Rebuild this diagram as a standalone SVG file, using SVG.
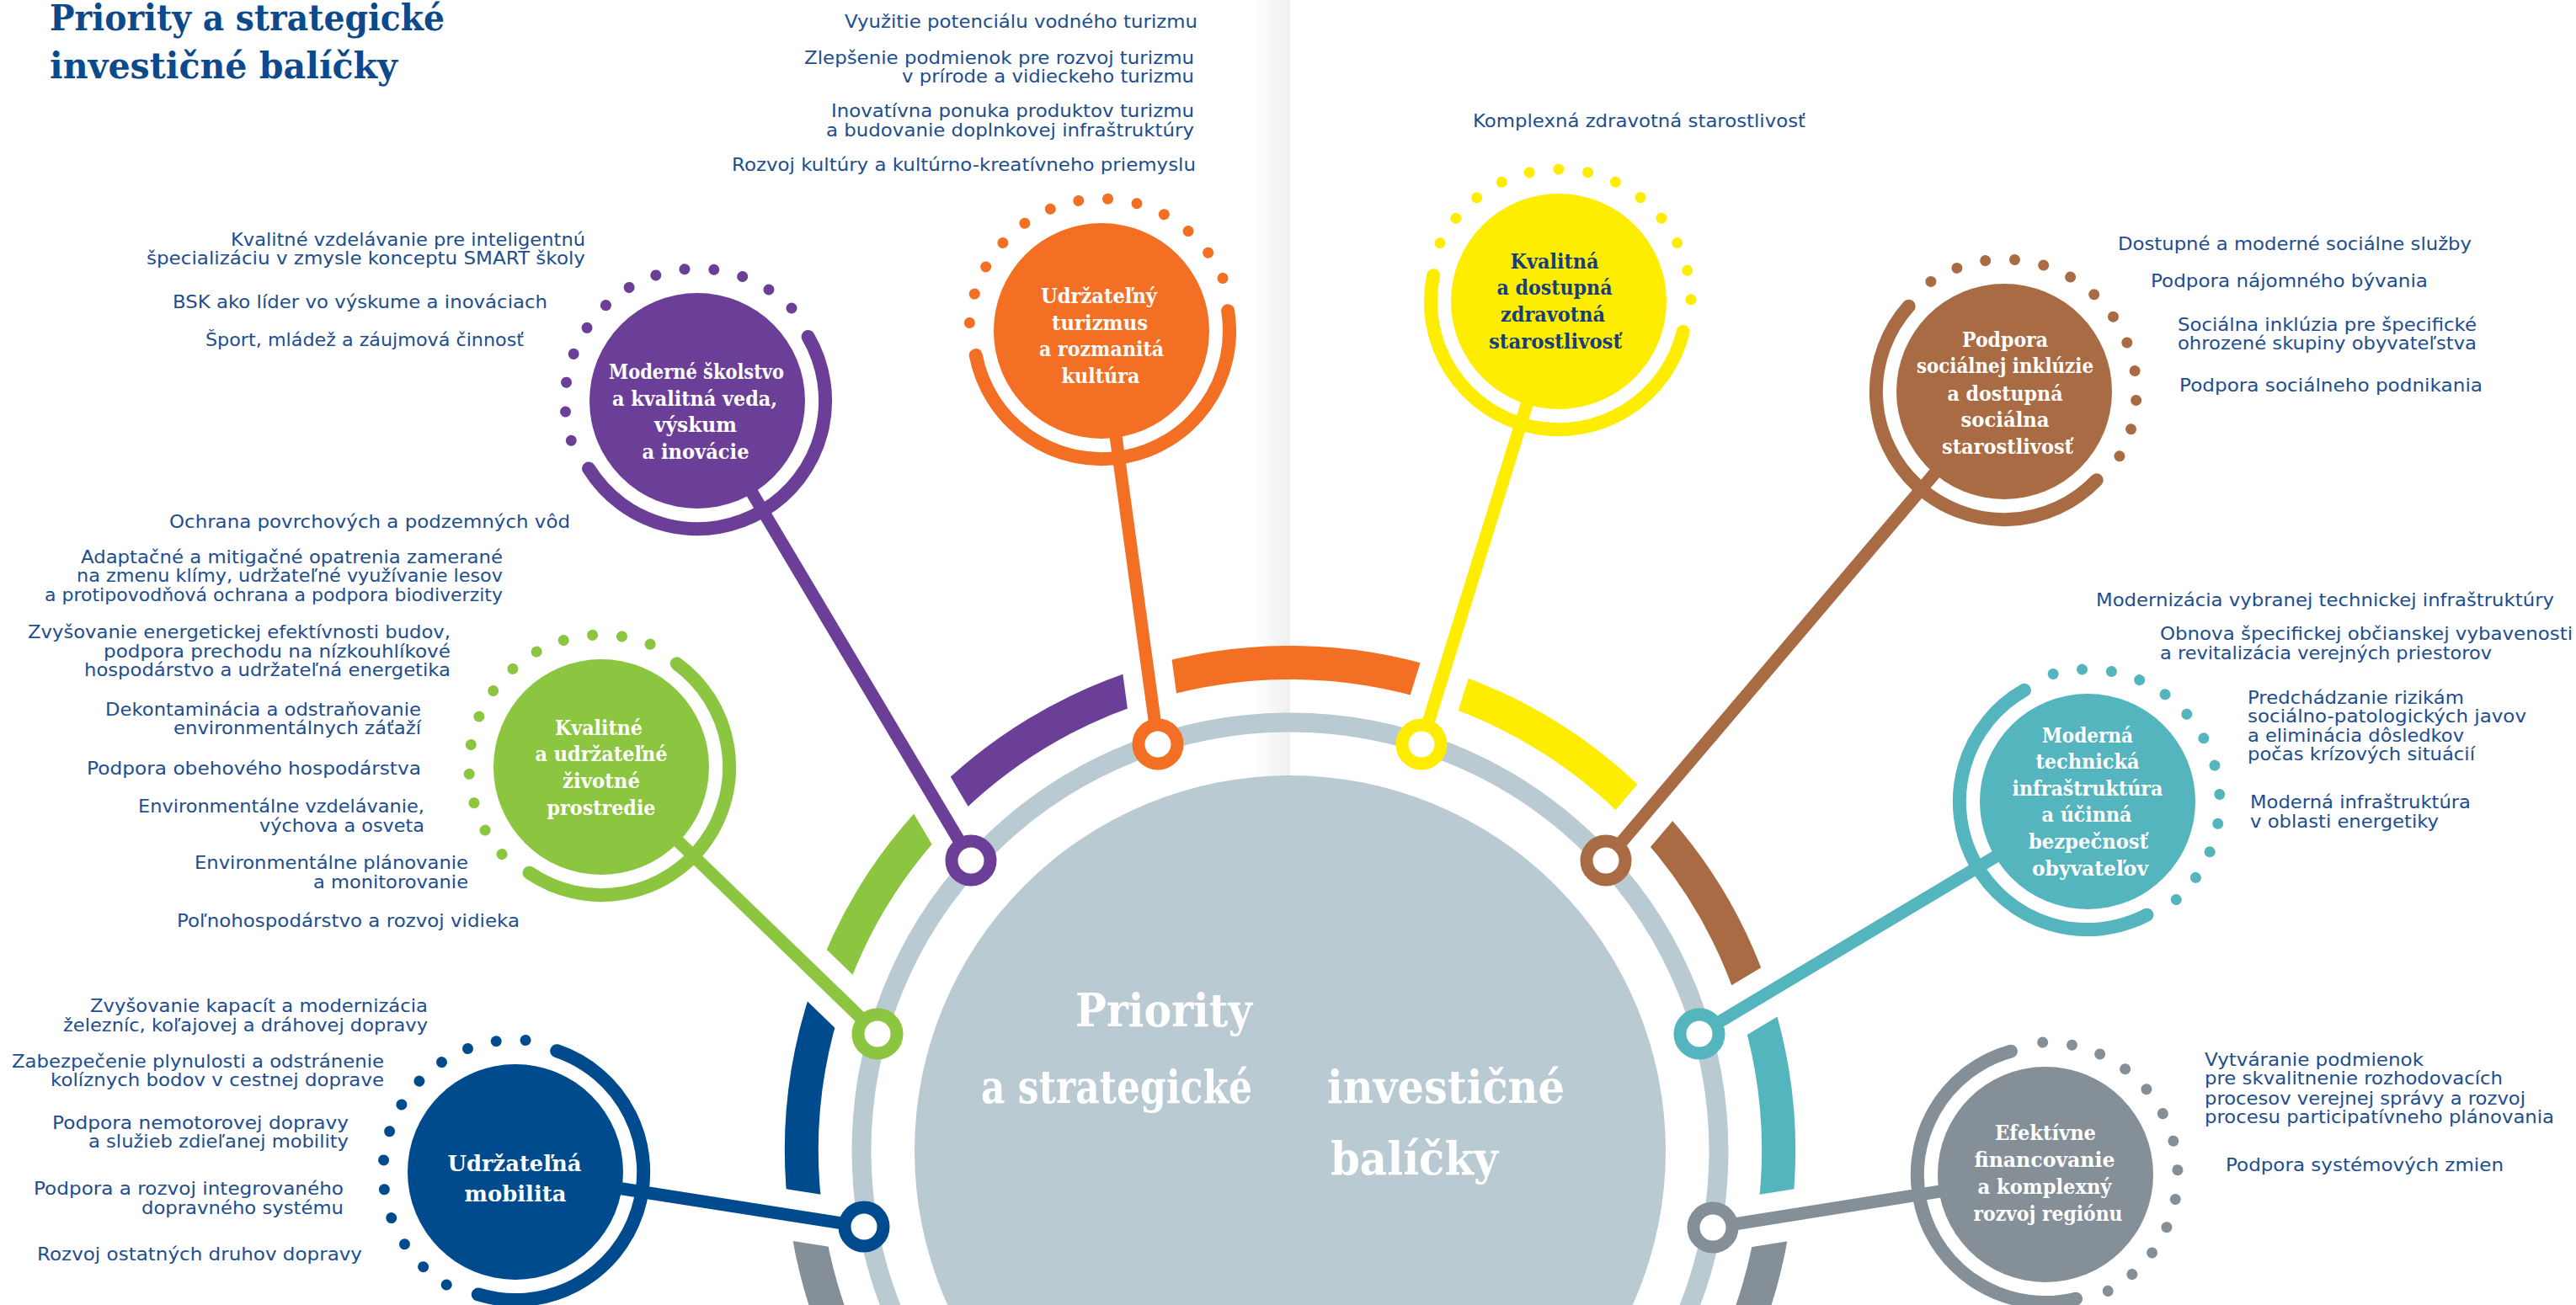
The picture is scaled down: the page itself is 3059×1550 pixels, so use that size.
<svg xmlns="http://www.w3.org/2000/svg" xmlns:xlink="http://www.w3.org/1999/xlink" width="3059" height="1550" viewBox="0 0 3059 1550">
<style>
.bt{font-family:"DejaVu Sans","Noto Sans","Liberation Sans",sans-serif;font-size:20.5px;fill:#1D4E8F}
.e{text-anchor:end}
.nt{font-family:"DejaVu Serif Condensed","DejaVu Serif",serif;font-weight:bold;font-size:24px;fill:#fff;text-anchor:middle}
.ttl{font-family:"DejaVu Serif Condensed","DejaVu Serif",serif;font-weight:bold;font-size:43px;fill:#0D4A8C}
.ct{font-family:"DejaVu Serif Condensed","DejaVu Serif",serif;font-weight:bold;font-size:54px;fill:#fff}
.seg{fill:none;stroke-width:40}
.con{stroke-width:15;fill:none}
.mk{fill:#fff;stroke-width:15}
</style>
<defs>
<linearGradient id="fold" x1="0" y1="0" x2="1" y2="0">
<stop offset="0" stop-color="#000" stop-opacity="0"/>
<stop offset="1" stop-color="#000" stop-opacity="0.06"/>
</linearGradient>
<g id="orn">
<path d="M2.65 -151.98 A152 152 0 0 1 2.65 151.98" fill="none" stroke="currentColor" stroke-width="16" stroke-linecap="round"/>
<g fill="currentColor">
<circle cx="-157" cy="0" r="6.5"/>
<circle cx="-153.13" cy="34.65" r="6.5"/><circle cx="-153.13" cy="-34.65" r="6.5"/>
<circle cx="-141.71" cy="67.59" r="6.5"/><circle cx="-141.71" cy="-67.59" r="6.5"/>
<circle cx="-123.3" cy="97.2" r="6.5"/><circle cx="-123.3" cy="-97.2" r="6.5"/>
<circle cx="-98.8" cy="122.01" r="6.5"/><circle cx="-98.8" cy="-122.01" r="6.5"/>
<circle cx="-69.44" cy="140.81" r="6.5"/><circle cx="-69.44" cy="-140.81" r="6.5"/>
<circle cx="-36.65" cy="152.66" r="6.5"/><circle cx="-36.65" cy="-152.66" r="6.5"/>
</g>
</g>
<mask id="gaps" maskUnits="userSpaceOnUse" x="0" y="0" width="3059" height="1550">
<rect width="3059" height="1550" fill="#fff"/>
<g stroke="#000" stroke-width="60">
<line x1="828" y1="476" x2="1153" y2="1022"/>
<line x1="1308" y1="393" x2="1375" y2="884"/>
<line x1="1851" y1="358" x2="1688" y2="884"/>
<line x1="2380" y1="465" x2="1907" y2="1022"/>
<line x1="714" y1="911" x2="1042" y2="1228"/>
<line x1="2479" y1="952" x2="2018" y2="1228"/>
<line x1="612" y1="1392" x2="1026" y2="1457"/>
<line x1="2429" y1="1395" x2="2034" y2="1458"/>
</g>
</mask>
</defs>
<rect width="3059" height="1550" fill="#fff"/>
<rect x="1486" y="0" width="46" height="1550" fill="url(#fold)"/>

<g id="title">
<text class="ttl" x="59" y="36" textLength="469" lengthAdjust="spacingAndGlyphs">Priority a strategické</text>
<text class="ttl" x="59" y="93" textLength="413" lengthAdjust="spacingAndGlyphs">investičné balíčky</text>
</g>

<g id="hub">
<circle cx="1532" cy="1367" r="446" fill="#BACAD3"/>
<circle cx="1532" cy="1367" r="509" fill="none" stroke="#BACAD3" stroke-width="23"/>
<text class="ct" x="1487" y="1219" text-anchor="end" textLength="210" lengthAdjust="spacingAndGlyphs">Priority</text>
<text class="ct" x="1487" y="1310" text-anchor="end" textLength="322" lengthAdjust="spacingAndGlyphs">a strategické</text>
<text class="ct" x="1576" y="1310" textLength="282" lengthAdjust="spacingAndGlyphs">investičné</text>
<text class="ct" x="1580" y="1395" textLength="199" lengthAdjust="spacingAndGlyphs">balíčky</text>
</g>

<g id="segments" mask="url(#gaps)">
<path class="seg" stroke="#848F97" d="M1159.2 1811.3 A580 580 0 0 1 957.9 1449.7"/>
<path class="seg" stroke="#004B8D" d="M957.9 1449.7 A580 580 0 0 1 983.9 1177.2"/>
<path class="seg" stroke="#8CC540" d="M983.9 1177.2 A580 580 0 0 1 1115.5 963.4"/>
<path class="seg" stroke="#6B3F98" d="M1115.5 963.4 A580 580 0 0 1 1365.3 811.5"/>
<path class="seg" stroke="#F26F23" d="M1365.3 811.5 A580 580 0 0 1 1711.2 815.4"/>
<path class="seg" stroke="#FFED00" d="M1711.2 815.4 A580 580 0 0 1 1950.6 965.6"/>
<path class="seg" stroke="#A96B43" d="M1950.6 965.6 A580 580 0 0 1 2085.2 1192.6"/>
<path class="seg" stroke="#55B5BE" d="M2085.2 1192.6 A580 580 0 0 1 2106.1 1449.7"/>
<path class="seg" stroke="#848F97" d="M2106.1 1449.7 A580 580 0 0 1 1904.8 1811.3"/>
</g>

<g id="connectors">
<line class="con" stroke="#6B3F98" x1="828" y1="476" x2="1153" y2="1022"/>
<line class="con" stroke="#F26F23" x1="1308" y1="393" x2="1375" y2="884"/>
<line class="con" stroke="#FFED00" x1="1851" y1="358" x2="1688" y2="884"/>
<line class="con" stroke="#A96B43" x1="2380" y1="465" x2="1907" y2="1022"/>
<line class="con" stroke="#8CC540" x1="714" y1="911" x2="1042" y2="1228"/>
<line class="con" stroke="#55B5BE" x1="2479" y1="952" x2="2018" y2="1228"/>
<line class="con" stroke="#004B8D" x1="612" y1="1392" x2="1026" y2="1457"/>
<line class="con" stroke="#848F97" x1="2429" y1="1395" x2="2034" y2="1458"/>
<circle class="mk" stroke="#6B3F98" cx="1153" cy="1022" r="23"/>
<circle class="mk" stroke="#F26F23" cx="1375" cy="884" r="23"/>
<circle class="mk" stroke="#FFED00" cx="1688" cy="884" r="23"/>
<circle class="mk" stroke="#A96B43" cx="1907" cy="1022" r="23"/>
<circle class="mk" stroke="#8CC540" cx="1042" cy="1228" r="23"/>
<circle class="mk" stroke="#55B5BE" cx="2018" cy="1228" r="23"/>
<circle class="mk" stroke="#004B8D" cx="1026" cy="1457" r="23"/>
<circle class="mk" stroke="#848F97" cx="2034" cy="1458" r="23"/>
</g>

<g id="node-skolstvo">
<use xlink:href="#orn" href="#orn" transform="translate(828 476) rotate(59)" style="color:#6B3F98"/>
<circle cx="828" cy="476" r="128" fill="#6B3F98"/>
<text class="nt" x="827" y="450" textLength="208" lengthAdjust="spacingAndGlyphs">Moderné školstvo</text>
<text class="nt" x="825" y="482" textLength="196" lengthAdjust="spacingAndGlyphs">a kvalitná veda,</text>
<text class="nt" x="826" y="513" textLength="98" lengthAdjust="spacingAndGlyphs">výskum</text>
<text class="nt" x="826" y="545" textLength="127" lengthAdjust="spacingAndGlyphs">a inovácie</text>
<text class="bt e" x="695" y="292" textLength="421" lengthAdjust="spacingAndGlyphs">Kvalitné vzdelávanie pre inteligentnú</text>
<text class="bt e" x="695" y="314" textLength="521" lengthAdjust="spacingAndGlyphs">špecializáciu v zmysle konceptu SMART školy</text>
<text class="bt e" x="650" y="366" textLength="445" lengthAdjust="spacingAndGlyphs">BSK ako líder vo výskume a inováciach</text>
<text class="bt e" x="622" y="411" textLength="378" lengthAdjust="spacingAndGlyphs">Šport, mládež a záujmová činnosť</text>
</g>

<g id="node-turizmus">
<use xlink:href="#orn" href="#orn" transform="translate(1308 393) rotate(80)" style="color:#F26F23"/>
<circle cx="1308" cy="393" r="128" fill="#F26F23"/>
<text class="nt" x="1305" y="360" textLength="138" lengthAdjust="spacingAndGlyphs">Udržateľný</text>
<text class="nt" x="1306" y="392" textLength="114" lengthAdjust="spacingAndGlyphs">turizmus</text>
<text class="nt" x="1308" y="423" textLength="148" lengthAdjust="spacingAndGlyphs">a rozmanitá</text>
<text class="nt" x="1307" y="455" textLength="93" lengthAdjust="spacingAndGlyphs">kultúra</text>
<text class="bt e" x="1422" y="33" textLength="419" lengthAdjust="spacingAndGlyphs">Využitie potenciálu vodného turizmu</text>
<text class="bt e" x="1418" y="76" textLength="463" lengthAdjust="spacingAndGlyphs">Zlepšenie podmienok pre rozvoj turizmu</text>
<text class="bt e" x="1418" y="98" textLength="347" lengthAdjust="spacingAndGlyphs">v prírode a vidieckeho turizmu</text>
<text class="bt e" x="1418" y="139" textLength="431" lengthAdjust="spacingAndGlyphs">Inovatívna ponuka produktov turizmu</text>
<text class="bt e" x="1418" y="162" textLength="437" lengthAdjust="spacingAndGlyphs">a budovanie doplnkovej infraštruktúry</text>
<text class="bt e" x="1420" y="203" textLength="551" lengthAdjust="spacingAndGlyphs">Rozvoj kultúry a kultúrno-kreatívneho priemyslu</text>
</g>

<g id="node-zdravotna">
<use xlink:href="#orn" href="#orn" transform="translate(1851 358) rotate(102.7)" style="color:#FFED00"/>
<circle cx="1851" cy="358" r="128" fill="#FFED00"/>
<text class="nt" x="1846" y="319" style="fill:#163F7A" textLength="105" lengthAdjust="spacingAndGlyphs">Kvalitná</text>
<text class="nt" x="1846" y="350" style="fill:#163F7A" textLength="137" lengthAdjust="spacingAndGlyphs">a dostupná</text>
<text class="nt" x="1844" y="382" style="fill:#163F7A" textLength="124" lengthAdjust="spacingAndGlyphs">zdravotná</text>
<text class="nt" x="1847" y="414" style="fill:#163F7A" textLength="158" lengthAdjust="spacingAndGlyphs">starostlivosť</text>
<text class="bt" x="1749" y="151" textLength="395" lengthAdjust="spacingAndGlyphs">Komplexná zdravotná starostlivosť</text>
</g>

<g id="node-socialna">
<use xlink:href="#orn" href="#orn" transform="translate(2380 465) rotate(132.8)" style="color:#A96B43"/>
<circle cx="2380" cy="465" r="128" fill="#A96B43"/>
<text class="nt" x="2381" y="412" textLength="102" lengthAdjust="spacingAndGlyphs">Podpora</text>
<text class="nt" x="2381" y="443" textLength="210" lengthAdjust="spacingAndGlyphs">sociálnej inklúzie</text>
<text class="nt" x="2381" y="476" textLength="137" lengthAdjust="spacingAndGlyphs">a dostupná</text>
<text class="nt" x="2381" y="507" textLength="105" lengthAdjust="spacingAndGlyphs">sociálna</text>
<text class="nt" x="2384" y="539" textLength="156" lengthAdjust="spacingAndGlyphs">starostlivosť</text>
<text class="bt" x="2515" y="297" textLength="420" lengthAdjust="spacingAndGlyphs">Dostupné a moderné sociálne služby</text>
<text class="bt" x="2554" y="341" textLength="329" lengthAdjust="spacingAndGlyphs">Podpora nájomného bývania</text>
<text class="bt" x="2586" y="393" textLength="355" lengthAdjust="spacingAndGlyphs">Sociálna inklúzia pre špecifické</text>
<text class="bt" x="2586" y="415" textLength="355" lengthAdjust="spacingAndGlyphs">ohrozené skupiny obyvateľstva</text>
<text class="bt" x="2588" y="465" textLength="360" lengthAdjust="spacingAndGlyphs">Podpora sociálneho podnikania</text>
</g>

<g id="node-prostredie">
<use xlink:href="#orn" href="#orn" transform="translate(714 911) rotate(35.2)" style="color:#8CC540"/>
<circle cx="714" cy="911" r="128" fill="#8CC540"/>
<text class="nt" x="711" y="873" textLength="104" lengthAdjust="spacingAndGlyphs">Kvalitné</text>
<text class="nt" x="714" y="904" textLength="157" lengthAdjust="spacingAndGlyphs">a udržateľné</text>
<text class="nt" x="714" y="936" textLength="92" lengthAdjust="spacingAndGlyphs">životné</text>
<text class="nt" x="714" y="968" textLength="129" lengthAdjust="spacingAndGlyphs">prostredie</text>
<text class="bt e" x="677" y="627" textLength="476" lengthAdjust="spacingAndGlyphs">Ochrana povrchových a podzemných vôd</text>
<text class="bt e" x="597" y="669" textLength="501" lengthAdjust="spacingAndGlyphs">Adaptačné a mitigačné opatrenia zamerané</text>
<text class="bt e" x="597" y="691" textLength="506" lengthAdjust="spacingAndGlyphs">na zmenu klímy, udržateľné využívanie lesov</text>
<text class="bt e" x="597" y="714" textLength="544" lengthAdjust="spacingAndGlyphs">a protipovodňová ochrana a podpora biodiverzity</text>
<text class="bt e" x="535" y="758" textLength="502" lengthAdjust="spacingAndGlyphs">Zvyšovanie energetickej efektívnosti budov,</text>
<text class="bt e" x="535" y="781" textLength="412" lengthAdjust="spacingAndGlyphs">podpora prechodu na nízkouhlíkové</text>
<text class="bt e" x="535" y="803" textLength="435" lengthAdjust="spacingAndGlyphs">hospodárstvo a udržateľná energetika</text>
<text class="bt e" x="500" y="850" textLength="375" lengthAdjust="spacingAndGlyphs">Dekontaminácia a odstraňovanie</text>
<text class="bt e" x="500" y="872" textLength="294" lengthAdjust="spacingAndGlyphs">environmentálnych záťaží</text>
<text class="bt e" x="500" y="920" textLength="397" lengthAdjust="spacingAndGlyphs">Podpora obehového hospodárstva</text>
<text class="bt e" x="504" y="965" textLength="340" lengthAdjust="spacingAndGlyphs">Environmentálne vzdelávanie,</text>
<text class="bt e" x="504" y="988" textLength="196" lengthAdjust="spacingAndGlyphs">výchova a osveta</text>
<text class="bt e" x="556" y="1032" textLength="325" lengthAdjust="spacingAndGlyphs">Environmentálne plánovanie</text>
<text class="bt e" x="556" y="1055" textLength="184" lengthAdjust="spacingAndGlyphs">a monitorovanie</text>
<text class="bt e" x="617" y="1101" textLength="407" lengthAdjust="spacingAndGlyphs">Poľnohospodárstvo a rozvoj vidieka</text>
</g>

<g id="node-infrastruktura">
<use xlink:href="#orn" href="#orn" transform="translate(2479 952) rotate(151.4)" style="color:#55B5BE"/>
<circle cx="2479" cy="952" r="128" fill="#55B5BE"/>
<text class="nt" x="2479" y="882" textLength="108" lengthAdjust="spacingAndGlyphs">Moderná</text>
<text class="nt" x="2479" y="913" textLength="123" lengthAdjust="spacingAndGlyphs">technická</text>
<text class="nt" x="2479" y="945" textLength="179" lengthAdjust="spacingAndGlyphs">infraštruktúra</text>
<text class="nt" x="2478" y="976" textLength="107" lengthAdjust="spacingAndGlyphs">a účinná</text>
<text class="nt" x="2480" y="1008" textLength="142" lengthAdjust="spacingAndGlyphs">bezpečnosť</text>
<text class="nt" x="2482" y="1040" textLength="138" lengthAdjust="spacingAndGlyphs">obyvateľov</text>
<text class="bt" x="2489" y="720" textLength="544" lengthAdjust="spacingAndGlyphs">Modernizácia vybranej technickej infraštruktúry</text>
<text class="bt" x="2565" y="760" textLength="490" lengthAdjust="spacingAndGlyphs">Obnova špecifickej občianskej vybavenosti</text>
<text class="bt" x="2565" y="783" textLength="394" lengthAdjust="spacingAndGlyphs">a revitalizácia verejných priestorov</text>
<text class="bt" x="2669" y="836" textLength="257" lengthAdjust="spacingAndGlyphs">Predchádzanie rizikám</text>
<text class="bt" x="2669" y="858" textLength="331" lengthAdjust="spacingAndGlyphs">sociálno-patologických javov</text>
<text class="bt" x="2669" y="881" textLength="257" lengthAdjust="spacingAndGlyphs">a eliminácia dôsledkov</text>
<text class="bt" x="2669" y="903" textLength="270" lengthAdjust="spacingAndGlyphs">počas krízových situácií</text>
<text class="bt" x="2672" y="960" textLength="262" lengthAdjust="spacingAndGlyphs">Moderná infraštruktúra</text>
<text class="bt" x="2672" y="983" textLength="224" lengthAdjust="spacingAndGlyphs">v oblasti energetiky</text>
</g>

<g id="node-mobilita">
<use xlink:href="#orn" href="#orn" transform="translate(612 1392) rotate(17.9)" style="color:#004B8D"/>
<circle cx="612" cy="1392" r="128" fill="#004B8D"/>
<text class="nt" x="611" y="1391" style="font-size:26px" textLength="159" lengthAdjust="spacingAndGlyphs">Udržateľná</text>
<text class="nt" x="612" y="1427" style="font-size:26px" textLength="121" lengthAdjust="spacingAndGlyphs">mobilita</text>
<text class="bt e" x="508" y="1202" textLength="401" lengthAdjust="spacingAndGlyphs">Zvyšovanie kapacít a modernizácia</text>
<text class="bt e" x="508" y="1225" textLength="433" lengthAdjust="spacingAndGlyphs">železníc, koľajovej a dráhovej dopravy</text>
<text class="bt e" x="456" y="1268" textLength="442" lengthAdjust="spacingAndGlyphs">Zabezpečenie plynulosti a odstránenie</text>
<text class="bt e" x="456" y="1290" textLength="396" lengthAdjust="spacingAndGlyphs">kolíznych bodov v cestnej doprave</text>
<text class="bt e" x="414" y="1341" textLength="352" lengthAdjust="spacingAndGlyphs">Podpora nemotorovej dopravy</text>
<text class="bt e" x="414" y="1363" textLength="309" lengthAdjust="spacingAndGlyphs">a služieb zdieľanej mobility</text>
<text class="bt e" x="408" y="1419" textLength="368" lengthAdjust="spacingAndGlyphs">Podpora a rozvoj integrovaného</text>
<text class="bt e" x="408" y="1442" textLength="240" lengthAdjust="spacingAndGlyphs">dopravného systému</text>
<text class="bt e" x="430" y="1497" textLength="386" lengthAdjust="spacingAndGlyphs">Rozvoj ostatných druhov dopravy</text>
</g>

<g id="node-financovanie">
<use xlink:href="#orn" href="#orn" transform="translate(2429 1395) rotate(165.3)" style="color:#848F97"/>
<circle cx="2429" cy="1395" r="128" fill="#848F97"/>
<text class="nt" x="2429" y="1354" textLength="120" lengthAdjust="spacingAndGlyphs">Efektívne</text>
<text class="nt" x="2428" y="1386" textLength="167" lengthAdjust="spacingAndGlyphs">financovanie</text>
<text class="nt" x="2428" y="1418" textLength="159" lengthAdjust="spacingAndGlyphs">a komplexný</text>
<text class="nt" x="2432" y="1450" textLength="177" lengthAdjust="spacingAndGlyphs">rozvoj regiónu</text>
<text class="bt" x="2618" y="1266" textLength="260" lengthAdjust="spacingAndGlyphs">Vytváranie podmienok</text>
<text class="bt" x="2618" y="1288" textLength="354" lengthAdjust="spacingAndGlyphs">pre skvalitnenie rozhodovacích</text>
<text class="bt" x="2618" y="1312" textLength="381" lengthAdjust="spacingAndGlyphs">procesov verejnej správy a rozvoj</text>
<text class="bt" x="2618" y="1334" textLength="415" lengthAdjust="spacingAndGlyphs">procesu participatívneho plánovania</text>
<text class="bt" x="2643" y="1391" textLength="330" lengthAdjust="spacingAndGlyphs">Podpora systémových zmien</text>
</g>
</svg>
